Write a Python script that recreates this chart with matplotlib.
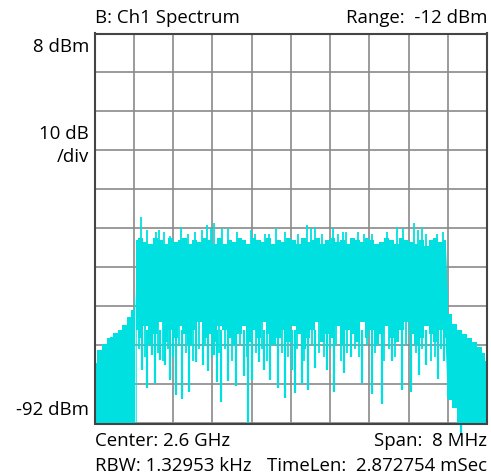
import matplotlib
matplotlib.use("Agg")
import matplotlib.pyplot as plt
import numpy as np

plt.rcParams['font.family'] = ['Open Sans', 'DejaVu Sans']

# frequency offset from 2.6 GHz centre, MHz ; levels in dBm
ref_level = 8
bottom_level = -92
span_mhz = 8

# left skirt (below the channel)
left_f = [-4.0, -3.89, -3.79, -3.69, -3.68, -3.67, -3.58, -3.48, -3.38, -3.28, -3.22, -3.17]
left_top = [-76.5, -73.2, -71.5, -70.0, -62.0, -69.8, -68.8, -68.0, -66.7, -64.7, -62.9, -60.0]
left_bot = [-96, -96, -96, -96, -96, -96, -96, -96, -96, -96, -96, -96]

# occupied channel: upper edge and lower edge of the solid trace
band_top = [-45, -44.5, -45.5, -46, -44.5, -45, -46, -44.5, -45.5, -45, -44.5, -46, -45, -45.5, -44.5, -45,
            -46, -44.5, -46, -45, -45.5, -44.5, -45, -46, -44.5, -45, -45.5, -44.5, -46, -45, -45.5, -44.5,
            -45, -46, -44.5, -45.5, -45, -44.5, -46, -45, -44.5, -45.5, -45, -46, -44.5, -45, -45.5, -44.5,
            -45, -46, -45.5, -44.5, -45, -46, -44.5, -45, -45.5, -46, -45, -46.5, -45, -44.5, -45.5, -45]
band_bot = [-68, -70, -67, -72, -69, -66, -71, -68, -70, -67, -69, -72, -68, -66, -70, -69,
            -71, -67, -68, -70, -72, -69, -67, -71, -68, -70, -66, -69, -72, -70, -68, -71,
            -67, -69, -73, -70, -68, -66, -71, -69, -70, -67, -72, -68, -69, -71, -66, -70,
            -68, -72, -69, -67, -70, -71, -68, -66, -69, -72, -70, -67, -69, -71, -68, -70]

# right skirt (above the channel)
right_f = [3.19, 3.23, 3.35, 3.44, 3.54, 3.64, 3.74, 3.85, 3.93, 4.0]
right_top = [-58, -64, -66.5, -68, -69, -70, -71, -72.5, -74, -76]
right_bot = [-85.5, -86, -88, -96, -96, -96, -96, -96, -96, -96]

# narrow peaks above the channel's top edge
peak_f = [-3.05, -2.93, -2.75, -2.69, -2.58, -2.46, -2.24, -2.09, -1.95, -1.81, -1.71, -1.63, -1.56,
          -1.40, -1.28, -1.10, -0.81, -0.73, -0.52, -0.44, -0.30, -0.12, 0.15, 0.33, 0.41, 0.49,
          0.64, 0.86, 0.96, 1.07, 1.12, 1.37, 1.49, 1.66, 1.96, 2.17, 2.29, 2.51, 2.59, 2.68, 2.76,
          2.98, 3.10]
peak_db = [-39, -42.5, -43, -42.5, -42.8, -44, -41.5, -43.5, -43, -42.5, -41.2, -42, -40.5,
           -42, -42, -43, -42.5, -43.5, -43.5, -43.5, -42, -43, -43.5, -41, -42, -41.5,
           -43.5, -42, -43.5, -43, -43, -43, -43.5, -43.5, -43, -41.5, -41.8, -40.5, -42.5, -41.5, -43.5,
           -43.5, -43]

# medium dips below the channel's lower edge
dip_f = [-3.1, -2.98, -2.88, -2.71, -2.61, -2.51, -2.40, -2.28, -2.14, -2.0, -1.86, -1.74, -1.60,
         -1.46, -1.34, -1.20, -1.04, -0.90, -0.70, -0.58, -0.48, -0.33, -0.18, -0.05, 0.12, 0.28,
         0.44, 0.58, 0.68, 0.80, 0.93, 1.02, 1.15, 1.30, 1.40, 1.55, 1.72, 1.90, 2.00, 2.12, 2.35,
         2.55, 2.68, 2.85, 2.93, 3.07]
dip_db = [-73, -75, -72, -74, -76, -73, -75, -72, -74, -76, -73, -72, -75, -74, -73, -76, -72,
          -75, -74, -73, -76, -72, -74, -75, -73, -76, -72, -74, -75, -73, -72, -76, -74, -73,
          -75, -72, -74, -76, -73, -75, -72, -74, -73, -76, -75, -73]

# deep downward spikes inside the channel
spike_f = [-3.03, -2.93, -2.83, -2.77, -2.66, -2.56, -2.46, -2.34, -2.22, -2.07, -1.93, -1.79,
           -1.69, -1.56, -1.50, -1.42, -1.28, -1.12, -0.95, -0.87, -0.79, -0.64, -0.54, -0.42,
           -0.26, -0.12, 0.03, 0.09, 0.23, 0.35, 0.49, 0.74, 0.88, 1.08, 1.22, 1.45, 1.65,
           1.85, 2.06, 2.27, 2.45, 2.62, 2.75, 3.0, 3.13, 3.47]
spike_db = [-78.3, -82.9, -74.5, -81.6, -75.7, -77, -80.9, -84.7, -85.7, -84, -76.2, -77,
            -78.5, -74.4, -81.4, -86.5, -81, -82.4, -79.8, -92, -80.9, -76.2, -78.3, -80.9,
            -83, -85.5, -78.3, -84.2, -82, -83.4, -77.8, -78.3, -83.9, -79, -75, -81.5, -84.5,
            -87, -76, -83.5, -84, -79.5, -77, -80.5, -76, -94.5]

cyan = '#00e0e0'

fig = plt.figure(figsize=(4.91, 4.76), dpi=100)
ax = fig.add_axes([94.5 / 491, 1 - 423.5 / 476, 392.5 / 491, 390 / 476])

band_f = np.linspace(-3.16, 3.16, len(band_top))
ax.fill_between(left_f, left_bot, left_top, color=cyan, lw=0, step='mid', zorder=3)
ax.fill_between(band_f, band_bot, band_top, color=cyan, lw=0, step='mid', zorder=3)
ax.fill_between(right_f, right_bot, right_top, color=cyan, lw=0, step='mid', zorder=3)
ax.fill_between([-3.17, -3.15], [-96, -96], [-60, -45], color=cyan, lw=0, zorder=3)
ax.fill_between([3.15, 3.19], [-72, -85.5], [-45, -58], color=cyan, lw=0, zorder=3)
ax.vlines(peak_f, -50, peak_db, color=cyan, lw=1.3, zorder=3)
ax.vlines(dip_f, dip_db, -66, color=cyan, lw=1.3, zorder=3)
ax.vlines(spike_f, spike_db, -68, color=cyan, lw=1.6, zorder=3, clip_on=False)

ax.set_xlim(-span_mhz / 2, span_mhz / 2)
ax.set_ylim(bottom_level, ref_level)
ax.set_xticks(np.linspace(-4, 4, 11))
ax.set_yticks(np.linspace(bottom_level, ref_level, 11))
ax.tick_params(length=0, labelbottom=False, labelleft=False)
ax.grid(True, color='#8a8a8a', lw=1.2, zorder=1)
ax.set_axisbelow(True)
for s in ax.spines.values():
    s.set_color('#444444')
    s.set_linewidth(1.5)
    s.set_zorder(4)

fs = 13.4
fig.text(95 / 491, 1 - 18 / 476, 'B: Ch1 Spectrum', ha='left', va='center', fontsize=fs)
fig.text(487 / 491, 1 - 18 / 476, 'Range:  -12 dBm', ha='right', va='center', fontsize=fs)
fig.text(89 / 491, 1 - 47 / 476, '8 dBm', ha='right', va='center', fontsize=fs)
fig.text(89 / 491, 1 - 134 / 476, '10 dB', ha='right', va='center', fontsize=fs)
fig.text(89 / 491, 1 - 157 / 476, '/div', ha='right', va='center', fontsize=fs)
fig.text(89 / 491, 1 - 410 / 476, '-92 dBm', ha='right', va='center', fontsize=fs)
fig.text(95 / 491, 1 - 441 / 476, 'Center: 2.6 GHz', ha='left', va='center', fontsize=fs)
fig.text(487 / 491, 1 - 441 / 476, 'Span:  8 MHz', ha='right', va='center', fontsize=fs)
fig.text(95 / 491, 1 - 466 / 476, 'RBW: 1.32953 kHz', ha='left', va='center', fontsize=fs)
fig.text(487 / 491, 1 - 466 / 476, 'TimeLen:  2.872754 mSec', ha='right', va='center', fontsize=fs)

fig.savefig('out.png', dpi=100)
